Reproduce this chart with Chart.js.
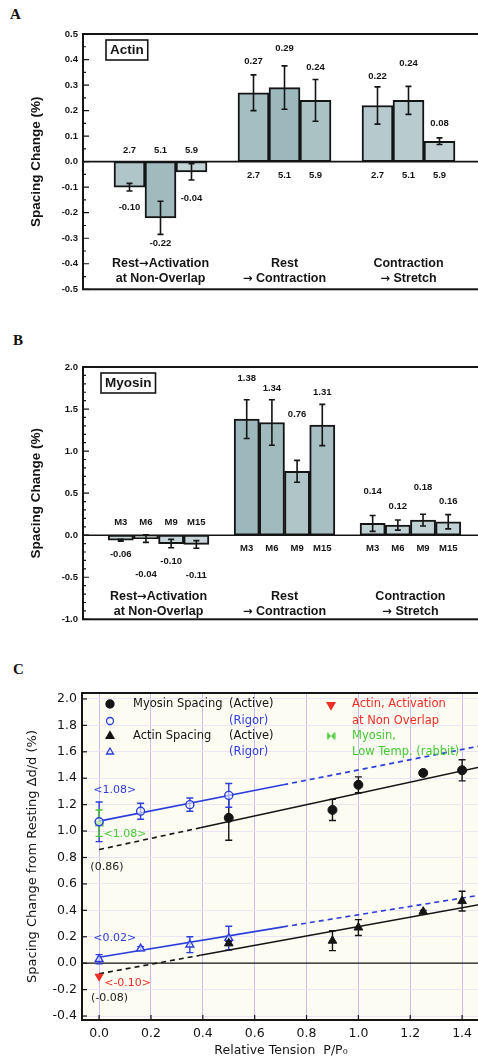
<!DOCTYPE html>
<html>
<head>
<meta charset="utf-8">
<script src="https://cdn.jsdelivr.net/npm/chart.js@4.4.0/dist/chart.umd.min.js"></script>
<style>
  html, body { margin: 0; padding: 0; background: #fff; width: 478px; height: 1059px; overflow: hidden; }
  canvas { position: absolute; left: 0; }
  .tag { position: absolute; font: bold 15px "Liberation Serif", serif; color: #111; }
</style>
</head>
<body>
<div class="tag" style="left:10px; top:6px;">A</div>
<div class="tag" style="left:13px; top:332px;">B</div>
<div class="tag" style="left:13px; top:661px;">C</div>
<canvas id="actinChart" style="top:0px;" width="500" height="300"></canvas>
<canvas id="myosinChart" style="top:330px;" width="500" height="300"></canvas>
<canvas id="tensionChart" style="top:660px;" width="500" height="399"></canvas>
<script>
// ================================================================
// DATA - panel A (actin) and B (myosin)
// ================================================================
const groupTitles = [['Rest\u2192Activation', 'at Non-Overlap'], ['Rest', '\u2192 Contraction'], ['Contraction', '\u2192 Stretch']];

const actinLengths = ['2.7', '5.1', '5.9'];
const actinMeans = [[-0.10, -0.22, -0.04], [0.27, 0.29, 0.24], [0.22, 0.24, 0.08]];
const actinErrors = [[0.015, 0.065, 0.032], [0.07, 0.085, 0.082], [0.073, 0.055, 0.013]];
const actinTicks = [-0.5, -0.4, -0.3, -0.2, -0.1, 0.0, 0.1, 0.2, 0.3, 0.4, 0.5];
// where the printed numbers sit (in axis units)
const actinValueAt = [[-0.178, -0.319, -0.142], [0.394, 0.443, 0.370], [0.335, 0.385, 0.148]];
const actinLengthAt = [0.045, -0.055, -0.055];

const myosinLayers = ['M3', 'M6', 'M9', 'M15'];
const myosinMeans = [[-0.06, -0.04, -0.10, -0.11], [1.38, 1.34, 0.76, 1.31], [0.14, 0.12, 0.18, 0.16]];
const myosinErrors = [[0.01, 0.045, 0.05, 0.045], [0.23, 0.27, 0.13, 0.245], [0.095, 0.06, 0.07, 0.085]];
const myosinTicks = [-1.0, -0.5, 0.0, 0.5, 1.0, 1.5, 2.0];
const myosinValueAt = [[-0.23, -0.46, -0.31, -0.48], [1.86, 1.74, 1.44, 1.70], [0.52, 0.34, 0.57, 0.40]];
const myosinLayerAt = [0.15, -0.16, -0.16];

// ================================================================
// DATA - panel C (spacing vs relative tension)
// ================================================================
const tensionTicks = [0.0, 0.2, 0.4, 0.6, 0.8, 1.0, 1.2, 1.4];
const spacingTicks = [-0.4, -0.2, 0.0, 0.2, 0.4, 0.6, 0.8, 1.0, 1.2, 1.4, 1.6, 1.8, 2.0];

const myosinActiveX = [0.5, 0.9, 1.0, 1.25, 1.4];
const myosinActiveY = [1.10, 1.16, 1.35, 1.44, 1.46];
const myosinActiveErr = [0.17, 0.08, 0.06, 0.015, 0.08];

const myosinRigorX = [0.0, 0.16, 0.35, 0.5];
const myosinRigorY = [1.07, 1.15, 1.20, 1.27];
const myosinRigorErr = [0.15, 0.06, 0.05, 0.09];

const actinActiveX = [0.5, 0.9, 1.0, 1.25, 1.4];
const actinActiveY = [0.15, 0.17, 0.27, 0.39, 0.47];
const actinActiveErr = [0.015, 0.075, 0.06, 0.01, 0.075];

const actinRigorX = [0.0, 0.16, 0.35, 0.5];
const actinRigorY = [0.03, 0.11, 0.14, 0.19];
const actinRigorErr = [0.035, 0.015, 0.06, 0.09];

const nonOverlapX = [0.0];
const nonOverlapY = [-0.10];
const rabbitX = [0.0];
const rabbitY = [1.06];
const rabbitErr = [0.10];

// regression lines: [x0, y0, x1, y1]
const myosinRigorFit = [0.0, 1.075, 0.71, 1.35];
const myosinRigorFitExt = [0.71, 1.35, 1.47, 1.645];
const myosinActiveFitExt = [0.0, 0.86, 0.39, 1.025];
const myosinActiveFit = [0.39, 1.025, 1.47, 1.485];
const actinRigorFit = [0.0, 0.045, 0.71, 0.275];
const actinRigorFitExt = [0.71, 0.275, 1.47, 0.515];
const actinActiveFitExt = [0.0, -0.08, 0.39, 0.06];
const actinActiveFit = [0.39, 0.06, 1.47, 0.445];

const notes = [
  { text: '<1.08>', x: 0.06, y: 1.31, color: '#2c3ddb' },
  { text: '<1.08>', x: 0.10, y: 0.975, color: '#46c934' },
  { text: '(0.86)', x: 0.03, y: 0.725, color: '#222' },
  { text: '<0.02>', x: 0.06, y: 0.19, color: '#2c3ddb' },
  { text: '<-0.10>', x: 0.11, y: -0.15, color: '#ee2d24' },
  { text: '(-0.08)', x: 0.04, y: -0.265, color: '#222' }
];

const BLUE = '#2c3ddb';
const RED = '#ee2d24';
const GREEN = '#46c934';
const INK = '#151515';

// ================================================================
// BAR PANELS (A, B)
// ================================================================
// Liberation Sans has a tiny arrow, so the arrow is drawn with DejaVu
function fillWithArrow(ctx, text, cx, cy, size) {
  const main = 'bold ' + size + 'px "Liberation Sans", Arial, sans-serif';
  const arrow = 'bold ' + (size - 1) + 'px "DejaVu Sans", sans-serif';
  const parts = text.split('\u2192');
  const widths = [];
  let total = 0;
  parts.forEach((s, i) => {
    ctx.font = main;
    widths.push(ctx.measureText(s).width);
    total += widths[i];
    if (i < parts.length - 1) { ctx.font = arrow; total += ctx.measureText('\u2192').width; }
  });
  let px = cx - total / 2;
  ctx.textAlign = 'left';
  parts.forEach((s, i) => {
    ctx.font = main;
    ctx.fillText(s, px, cy);
    px += widths[i];
    if (i < parts.length - 1) {
      ctx.font = arrow;
      ctx.fillText('\u2192', px, cy);
      px += ctx.measureText('\u2192').width;
    }
  });
  ctx.textAlign = 'center';
}

const barExtras = {
  id: 'barExtras',
  afterDatasetsDraw(chart, args, o) {
    const { ctx, chartArea: a, scales: { x, y } } = chart;
    const values = chart.data.datasets[0].data;
    ctx.save();

    // zero line
    ctx.strokeStyle = INK;
    ctx.lineWidth = 1.6;
    ctx.beginPath();
    ctx.moveTo(a.left, y.getPixelForValue(0));
    ctx.lineTo(a.right, y.getPixelForValue(0));
    ctx.stroke();

    // error bars
    ctx.lineWidth = 1.6;
    values.forEach((v, i) => {
      const e = o.errors[i];
      if (v == null || e == null) return;
      const px = x.getPixelForValue(i);
      const top = y.getPixelForValue(v + e);
      const bot = y.getPixelForValue(v - e);
      ctx.beginPath();
      ctx.moveTo(px, top); ctx.lineTo(px, bot);
      ctx.moveTo(px - 3, top); ctx.lineTo(px + 3, top);
      ctx.moveTo(px - 3, bot); ctx.lineTo(px + 3, bot);
      ctx.stroke();
    });

    // frame with inward ticks
    ctx.lineWidth = 2;
    ctx.strokeRect(a.left, a.top, a.right - a.left, a.bottom - a.top);
    ctx.lineWidth = 1.2;
    const n = Math.round((o.max - o.min) / o.minor);
    for (let k = 0; k <= n; k++) {
      const v = o.min + k * o.minor;
      const py = y.getPixelForValue(v);
      const major = Math.abs(v / o.major - Math.round(v / o.major)) < 1e-6;
      const len = major ? 6 : 3;
      ctx.beginPath();
      ctx.moveTo(a.left, py); ctx.lineTo(a.left + len, py);
      ctx.moveTo(a.right, py); ctx.lineTo(a.right - len, py);
      ctx.stroke();
    }

    // printed numbers
    ctx.fillStyle = INK;
    ctx.textAlign = 'center';
    ctx.textBaseline = 'middle';
    ctx.font = 'bold 9.5px "Liberation Sans", Arial, sans-serif';
    values.forEach((v, i) => {
      if (v == null) return;
      const px = x.getPixelForValue(i);
      ctx.fillText(v.toFixed(2), px, y.getPixelForValue(o.valueAt[i]));
      ctx.fillText(o.subLabels[i], px, y.getPixelForValue(o.subAt[i]));
    });

    // group titles
    o.groupCenters.forEach((c, g) => {
      const px = x.getPixelForValue(c);
      fillWithArrow(ctx, groupTitles[g][0], px, y.getPixelForValue(o.titleAt[0]), 12.5);
      fillWithArrow(ctx, groupTitles[g][1], px, y.getPixelForValue(o.titleAt[1]), 12.5);
    });

    // boxed panel name
    ctx.font = 'bold 13.5px "Liberation Sans", Arial, sans-serif';
    const w = ctx.measureText(o.name).width + 8;
    const bx = a.left + o.boxDx, by = a.top + 6;
    ctx.lineWidth = 1.6;
    ctx.strokeRect(bx, by, w, 20);
    ctx.textAlign = 'left';
    ctx.fillText(o.name, bx + 4, by + 10.5);
    ctx.restore();
  }
};

function makeBarPanel(canvasId, p) {
  const values = [], errors = [], valueAt = [], subLabels = [], subAt = [], colors = [], labels = [];
  const groupCenters = [];
  p.means.forEach((group, g) => {
    values.push(null); errors.push(null); valueAt.push(null); subLabels.push(''); subAt.push(null); colors.push('#fff'); labels.push('');
    groupCenters.push(values.length + (group.length - 1) / 2);
    group.forEach((v, i) => {
      values.push(v);
      errors.push(p.errors[g][i]);
      valueAt.push(p.valueAt[g][i]);
      subLabels.push(p.subLabels[i]);
      subAt.push(p.subAt[g]);
      colors.push(p.colors[g][i]);
      labels.push(p.subLabels[i]);
    });
  });
  values.push(null); errors.push(null); valueAt.push(null); subLabels.push(''); subAt.push(null); colors.push('#fff'); labels.push('');

  const ticks = p.ticks;
  return new Chart(document.getElementById(canvasId), {
    type: 'bar',
    data: {
      labels: labels,
      datasets: [{
        data: values,
        backgroundColor: colors,
        borderColor: INK,
        borderWidth: 2,
        borderSkipped: false,
        barPercentage: 1,
        categoryPercentage: 1
      }]
    },
    options: {
      responsive: false,
      animation: false,
      layout: { padding: { top: p.top, right: 14, bottom: p.bottom, left: 0 } },
      plugins: {
        legend: { display: false },
        tooltip: { enabled: false },
        barExtras: {
          errors, valueAt, subLabels, subAt, groupCenters,
          titleAt: p.titleAt, name: p.name, boxDx: p.boxDx,
          min: ticks[0], max: ticks[ticks.length - 1], major: ticks[1] - ticks[0], minor: p.minor
        }
      },
      scales: {
        x: { display: false },
        y: {
          min: ticks[0],
          max: ticks[ticks.length - 1],
          afterBuildTicks: s => { s.ticks = ticks.map(v => ({ value: v })); },
          afterFit: s => { s.width = 83; },
          grid: { display: false, drawTicks: false },
          border: { display: false },
          ticks: {
            padding: 5,
            color: INK,
            font: { family: '"Liberation Sans", Arial, sans-serif', size: 9.5, weight: 'bold' },
            callback: v => v.toFixed(1)
          },
          title: {
            display: true,
            text: 'Spacing Change (%)',
            color: INK,
            font: { family: '"Liberation Sans", Arial, sans-serif', size: 13.5, weight: 'bold' },
            padding: { top: 28, bottom: 0 }
          }
        }
      }
    },
    plugins: [barExtras]
  });
}

makeBarPanel('actinChart', {
  name: 'Actin', boxDx: 23, top: 34, bottom: 8, minor: 0.05,
  means: actinMeans, errors: actinErrors, valueAt: actinValueAt,
  subLabels: actinLengths, subAt: actinLengthAt, ticks: actinTicks,
  titleAt: [-0.40, -0.458],
  colors: [['#b0c5c8', '#a0babe', '#c4d3d5'], ['#a5bec2', '#9db8bc', '#abc2c5'], ['#b6c9cc', '#b8cbcd', '#c2d2d4']]
});

makeBarPanel('myosinChart', {
  name: 'Myosin', boxDx: 18, top: 37, bottom: 7, minor: 0.1,
  means: myosinMeans, errors: myosinErrors, valueAt: myosinValueAt,
  subLabels: myosinLayers, subAt: myosinLayerAt, ticks: myosinTicks,
  titleAt: [-0.73, -0.91],
  colors: [['#c6d5d7', '#c6d5d7', '#c6d5d7', '#c6d5d7'], ['#9db8bc', '#a0babe', '#b0c5c8', '#a7bfc3'], ['#bfd1d3', '#bfd1d3', '#bfd1d3', '#bfd1d3']]
});

// ================================================================
// PANEL C
// ================================================================
function bowtie(color) {
  const c = document.createElement('canvas');
  c.width = 9; c.height = 9;
  const g = c.getContext('2d');
  g.fillStyle = color;
  g.beginPath();
  g.moveTo(1, 1); g.lineTo(4.5, 4.5); g.lineTo(1, 8); g.closePath();
  g.moveTo(8, 1); g.lineTo(4.5, 4.5); g.lineTo(8, 8); g.closePath();
  g.fill();
  g.fillRect(0.5, 1, 1.5, 7);
  g.fillRect(7, 1, 1.5, 7);
  return c;
}
const rabbitMark = bowtie(GREEN);

const pts = (xs, ys) => xs.map((x, i) => ({ x: x, y: ys[i] }));
const seg = s => [{ x: s[0], y: s[1] }, { x: s[2], y: s[3] }];

function fitLine(s, color, dashed) {
  return {
    data: seg(s), showLine: true, pointRadius: 0, borderColor: color,
    borderWidth: 1.6, borderDash: dashed ? [5, 4] : [], fill: false
  };
}

const panelCExtras = {
  id: 'panelCExtras',
  beforeDraw(chart) {
    const { ctx, chartArea: a } = chart;
    ctx.save();
    ctx.fillStyle = '#fcfcf3';
    ctx.fillRect(a.left, a.top, a.right - a.left, a.bottom - a.top);
    ctx.restore();
  },
  beforeDatasetsDraw(chart) {
    const { ctx, chartArea: a, scales: { x, y } } = chart;
    ctx.save();
    // zero line
    ctx.strokeStyle = INK;
    ctx.lineWidth = 1.2;
    ctx.beginPath();
    ctx.moveTo(a.left, y.getPixelForValue(0));
    ctx.lineTo(a.right, y.getPixelForValue(0));
    ctx.stroke();
    // error bars
    chart.data.datasets.forEach(ds => {
      if (!ds.errorBars) return;
      ctx.strokeStyle = ds.errorColor;
      ctx.lineWidth = 1.4;
      ds.data.forEach((p, i) => {
        const e = ds.errorBars[i];
        const px = x.getPixelForValue(p.x);
        const top = y.getPixelForValue(p.y + e);
        const bot = y.getPixelForValue(p.y - e);
        ctx.beginPath();
        ctx.moveTo(px, top); ctx.lineTo(px, bot);
        ctx.moveTo(px - 3.5, top); ctx.lineTo(px + 3.5, top);
        ctx.moveTo(px - 3.5, bot); ctx.lineTo(px + 3.5, bot);
        ctx.stroke();
      });
    });
    ctx.restore();
  },
  afterDraw(chart) {
    const { ctx, chartArea: a, scales: { x, y } } = chart;
    ctx.save();
    // top frame and inward ticks
    ctx.strokeStyle = INK;
    ctx.lineWidth = 2;
    ctx.beginPath();
    ctx.moveTo(a.left - 1, a.top); ctx.lineTo(a.right, a.top);
    ctx.stroke();
    ctx.lineWidth = 1.2;
    spacingTicks.forEach(v => {
      const py = y.getPixelForValue(v);
      ctx.beginPath(); ctx.moveTo(a.left, py); ctx.lineTo(a.left + 5, py); ctx.stroke();
    });
    tensionTicks.forEach(v => {
      const px = x.getPixelForValue(v);
      ctx.beginPath(); ctx.moveTo(px, a.bottom); ctx.lineTo(px, a.bottom - 5); ctx.stroke();
    });

    // value notes
    ctx.font = '11px "DejaVu Sans", sans-serif';
    ctx.textAlign = 'center';
    ctx.textBaseline = 'middle';
    notes.forEach(n => {
      ctx.fillStyle = n.color;
      ctx.fillText(n.text, x.getPixelForValue(n.x), y.getPixelForValue(n.y));
    });

    // legend
    const H = Chart.helpers;
    const rows = [a.top + 11, a.top + 28, a.top + 43, a.top + 59];
    const symX = a.left + 28, txtX = a.left + 51, colX = a.left + 147;
    const rSymX = a.left + 249, rTxtX = a.left + 270;
    const mark = (style, fill, stroke, px, py, r, rot) => {
      ctx.fillStyle = fill; ctx.strokeStyle = stroke; ctx.lineWidth = 1.3;
      H.drawPoint(ctx, { pointStyle: style, radius: r, rotation: rot || 0, borderWidth: 1.3 }, px, py);
    };
    mark('circle', INK, INK, symX, rows[0], 4);
    mark('circle', 'rgba(0,0,0,0)', BLUE, symX, rows[1], 3.5);
    mark('triangle', INK, INK, symX, rows[2], 4.5);
    mark('triangle', 'rgba(0,0,0,0)', BLUE, symX, rows[3], 4);
    mark('triangle', RED, RED, rSymX, rows[0] + 1, 4.5, 180);
    ctx.drawImage(rabbitMark, rSymX - 4.5, rows[2] - 4.5);

    ctx.textAlign = 'left';
    ctx.font = '11.5px "DejaVu Sans", sans-serif';
    ctx.fillStyle = INK;
    ctx.fillText('Myosin Spacing', txtX, rows[0]);
    ctx.fillText('(Active)', colX, rows[0]);
    ctx.fillText('Actin Spacing', txtX, rows[2]);
    ctx.fillText('(Active)', colX, rows[2]);
    ctx.fillStyle = BLUE;
    ctx.fillText('(Rigor)', colX, rows[1]);
    ctx.fillText('(Rigor)', colX, rows[3]);
    ctx.fillStyle = RED;
    ctx.fillText('Actin, Activation', rTxtX, rows[0]);
    ctx.fillText('at Non Overlap', rTxtX, rows[1]);
    ctx.fillStyle = GREEN;
    ctx.fillText('Myosin,', rTxtX, rows[2]);
    ctx.fillText('Low Temp. (rabbit)', rTxtX, rows[3]);
    ctx.restore();
  }
};

const fontC = '"DejaVu Sans", sans-serif';

new Chart(document.getElementById('tensionChart'), {
  type: 'scatter',
  data: {
    datasets: [
      { data: pts(nonOverlapX, nonOverlapY), pointStyle: 'triangle', rotation: 180, pointRadius: 4.5, backgroundColor: RED, borderColor: RED },
      { data: pts(myosinActiveX, myosinActiveY), errorBars: myosinActiveErr, errorColor: INK, pointStyle: 'circle', pointRadius: 4.5, backgroundColor: INK, borderColor: INK },
      { data: pts(actinActiveX, actinActiveY), errorBars: actinActiveErr, errorColor: INK, pointStyle: 'triangle', pointRadius: 5, backgroundColor: INK, borderColor: INK },
      { data: pts(myosinRigorX, myosinRigorY), errorBars: myosinRigorErr, errorColor: BLUE, pointStyle: 'circle', pointRadius: 4, borderWidth: 1.4, backgroundColor: 'rgba(255,255,255,0.6)', borderColor: BLUE },
      { data: pts(actinRigorX, actinRigorY), errorBars: actinRigorErr, errorColor: BLUE, pointStyle: 'triangle', pointRadius: 4.5, borderWidth: 1.4, backgroundColor: 'rgba(255,255,255,0.6)', borderColor: BLUE },
      { data: pts(rabbitX, rabbitY), errorBars: rabbitErr, errorColor: GREEN, pointStyle: rabbitMark, pointRadius: 4.5 },
      fitLine(myosinRigorFit, BLUE, false),
      fitLine(myosinRigorFitExt, BLUE, true),
      fitLine(myosinActiveFit, INK, false),
      fitLine(myosinActiveFitExt, INK, true),
      fitLine(actinRigorFit, BLUE, false),
      fitLine(actinRigorFitExt, BLUE, true),
      fitLine(actinActiveFit, INK, false),
      fitLine(actinActiveFitExt, INK, true)
    ]
  },
  options: {
    responsive: false,
    animation: false,
    layout: { padding: { top: 33, right: 20, bottom: 0, left: 0 } },
    plugins: { legend: { display: false }, tooltip: { enabled: false } },
    scales: {
      x: {
        type: 'linear', min: -0.066, max: 1.469,
        afterBuildTicks: s => { s.ticks = tensionTicks.map(v => ({ value: v })); },
        afterFit: s => { s.height = 39; },
        grid: { color: '#cdb9ea', lineWidth: 1, drawTicks: false },
        border: { color: INK, width: 2 },
        ticks: { padding: 6, color: INK, font: { family: fontC, size: 12.5 }, callback: v => v.toFixed(1), maxRotation: 0 },
        title: { display: true, text: 'Relative Tension  P/P\u2080', color: INK, font: { family: fontC, size: 12.5 }, padding: { top: 0, bottom: 1 } }
      },
      y: {
        type: 'linear', min: -0.43, max: 2.045,
        afterBuildTicks: s => { s.ticks = spacingTicks.map(v => ({ value: v })); },
        afterFit: s => { s.width = 82; },
        grid: { color: '#ece4f4', lineWidth: 1, drawTicks: false },
        border: { color: INK, width: 2 },
        ticks: { padding: 5, color: INK, font: { family: fontC, size: 12.5 }, callback: v => v.toFixed(1) },
        title: { display: true, text: 'Spacing Change from Resting \u2206d/d (%)', color: INK, font: { family: fontC, size: 13 }, padding: { top: 25, bottom: 0 } }
      }
    }
  },
  plugins: [panelCExtras]
});
</script>
</body>
</html>
